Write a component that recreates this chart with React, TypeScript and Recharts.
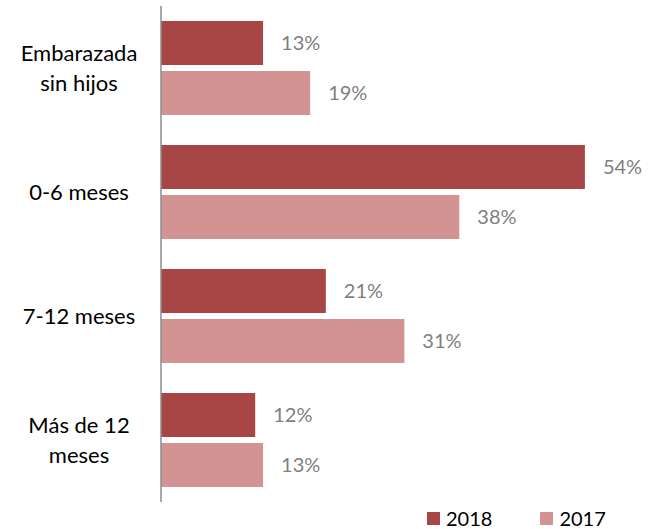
import React from 'react';
import { BarChart, Bar, XAxis, YAxis, LabelList, Legend } from 'recharts';

const categories = ['Embarazada\nsin hijos', '0-6 meses', '7-12 meses', 'Más de 12\nmeses'];
const values2018 = [13, 54, 21, 12];
const values2017 = [19, 38, 31, 13];
const seriesNames = ['2018', '2017'];
const colors = ['#A84545', '#D39393'];

const data = categories.map((c, i) => ({ cat: c, s2018: values2018[i], s2017: values2017[i] }));

const FONT = 'Lato, "Open Sans", sans-serif';

const CatTick = (props: any) => {
  const { y, payload } = props;
  const lines: string[] = String(payload.value).split('\n');
  const lh = 30;
  const start = y - ((lines.length - 1) * lh) / 2;
  return (
    <text x={79} y={start} textAnchor="middle" fontFamily={FONT} fontSize={22} fill="#000">
      {lines.map((l, i) => (
        <tspan key={i} x={79} y={start + i * lh} dy="0.35em">{l}</tspan>
      ))}
    </text>
  );
};

const LegendContent = () => (
  <div style={{ display: 'flex', fontFamily: FONT, fontSize: 20, lineHeight: '20px', color: '#000' }}>
    {seriesNames.map((n, i) => (
      <div key={n} style={{ display: 'flex', alignItems: 'center', marginRight: i === 0 ? 48 : 0 }}>
        <div style={{ width: 13, height: 13, background: colors[i], marginRight: 6 }} />
        <span>{n}</span>
      </div>
    ))}
  </div>
);

export default function App() {
  return (
    <div style={{ position: 'absolute', left: 0, top: 0, background: '#fff' }}>
      <BarChart
        width={655}
        height={529}
        data={data}
        layout="vertical"
        margin={{ top: 6, right: 23, bottom: 27, left: 0 }}
        barSize={44}
        barGap={6}
      >
        <XAxis type="number" domain={[0, 60]} hide />
        <YAxis
          type="category"
          dataKey="cat"
          width={161}
          tickLine={false}
          axisLine={{ stroke: '#8c8c8c', strokeWidth: 1.5 }}
          tick={<CatTick />}
        />
        <Legend
          layout="vertical"
          align="center"
          verticalAlign="middle"
          content={<LegendContent />}
          wrapperStyle={{ position: 'absolute', left: 427, top: 508, width: 'auto' }}
        />
        <Bar dataKey="s2018" name={seriesNames[0]} fill={colors[0]} isAnimationActive={false}>
          <LabelList dataKey="s2018" position="right" offset={18} formatter={(v: any) => `${v}%`} fill="#7f7f7f" fontSize={20} fontFamily={FONT} />
        </Bar>
        <Bar dataKey="s2017" name={seriesNames[1]} fill={colors[1]} isAnimationActive={false}>
          <LabelList dataKey="s2017" position="right" offset={18} formatter={(v: any) => `${v}%`} fill="#7f7f7f" fontSize={20} fontFamily={FONT} />
        </Bar>
      </BarChart>
    </div>
  );
}
